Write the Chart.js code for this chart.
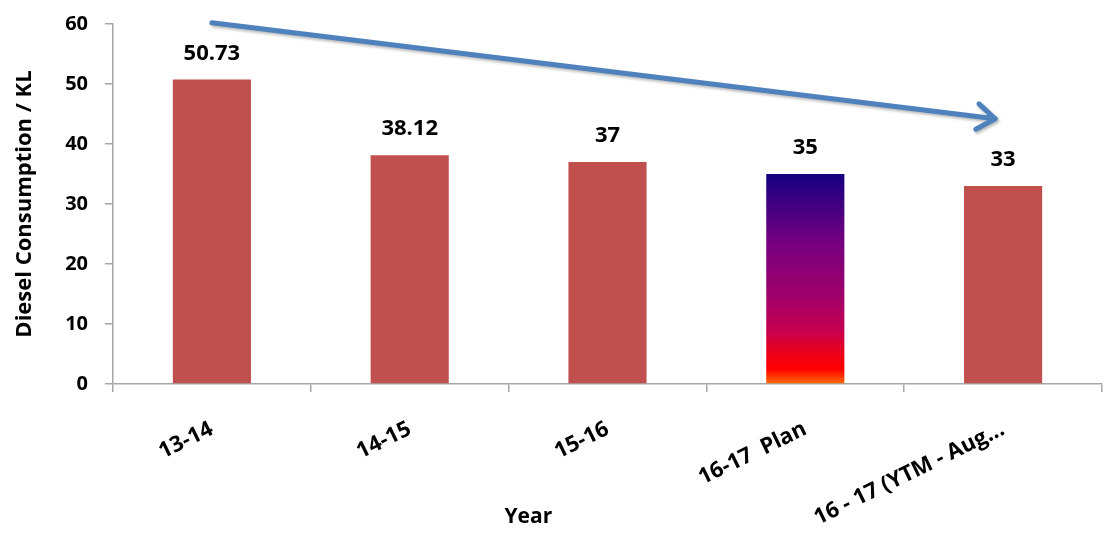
<!DOCTYPE html>
<html>
<head>
<meta charset="utf-8">
<script src="https://cdn.jsdelivr.net/npm/chart.js@4.4.1/dist/chart.umd.min.js"></script>
<style>
  html, body { margin: 0; padding: 0; background: #ffffff; }
  #wrap { width: 1115px; height: 534px; }
</style>
</head>
<body>
<div id="wrap"><canvas id="chart" width="1115" height="534"></canvas></div>
<script>
// Diesel consumption per financial year (KL)
const years = ['13-14', '14-15', '15-16', '16-17  Plan', '16 - 17 (YTM - Aug...'];
const consumption = [50.73, 38.12, 37, 35, 33];
const valueLabels = ['50.73', '38.12', '37', '35', '33'];
const yTicks = [0, 10, 20, 30, 40, 50, 60];
const planIndex = 3;

// Downward trend arrow, given as [category index, value]
const trendStart = [0, 60.2];
const trendEnd = [3.96, 44.2];

const FONT = '"Open Sans", "Noto Sans", sans-serif';
const BAR_RED = '#C0504D';
const AXIS_GREY = '#A6A6A6';

function planGradient(chart) {
  const { ctx, scales } = chart;
  if (!scales || !scales.y) return BAR_RED;
  const top = scales.y.getPixelForValue(consumption[planIndex]);
  const bottom = scales.y.getPixelForValue(0);
  const g = ctx.createLinearGradient(0, top, 0, bottom);
  g.addColorStop(0.00, 'rgb(20,0,128)');
  g.addColorStop(0.33, 'rgb(118,0,128)');
  g.addColorStop(0.58, 'rgb(160,0,105)');
  g.addColorStop(0.75, 'rgb(200,0,80)');
  g.addColorStop(0.84, 'rgb(232,0,32)');
  g.addColorStop(0.93, 'rgb(255,0,0)');
  g.addColorStop(1.00, 'rgb(255,110,0)');
  return g;
}

// Value labels above each bar
const valueLabelPlugin = {
  id: 'valueLabels',
  afterDatasetsDraw(chart) {
    const { ctx } = chart;
    const meta = chart.getDatasetMeta(0);
    ctx.save();
    ctx.font = 'bold 22px ' + FONT;
    ctx.fillStyle = '#000000';
    ctx.textAlign = 'center';
    ctx.textBaseline = 'alphabetic';
    meta.data.forEach((bar, i) => {
      ctx.fillText(valueLabels[i], bar.x, bar.y - 20);
    });
    ctx.restore();
  }
};

// Trend arrow and the x-axis caption
const overlayPlugin = {
  id: 'overlay',
  afterDraw(chart) {
    const { ctx, scales, chartArea } = chart;
    const x0 = scales.x.getPixelForValue(trendStart[0]);
    const y0 = scales.y.getPixelForValue(trendStart[1]);
    const x1 = scales.x.getPixelForValue(trendEnd[0]);
    const y1 = scales.y.getPixelForValue(trendEnd[1]);
    const ang = Math.atan2(y1 - y0, x1 - x0);
    const head = 22;
    const spread = 0.62;

    ctx.save();
    ctx.strokeStyle = '#4F81BD';
    ctx.lineWidth = 5;
    ctx.lineCap = 'round';
    ctx.lineJoin = 'round';
    ctx.shadowColor = 'rgba(0,0,0,0.28)';
    ctx.shadowBlur = 3;
    ctx.shadowOffsetX = 1.5;
    ctx.shadowOffsetY = 2;
    ctx.beginPath();
    ctx.moveTo(x0, y0);
    ctx.lineTo(x1, y1);
    ctx.moveTo(x1 - head * Math.cos(ang - spread), y1 - head * Math.sin(ang - spread));
    ctx.lineTo(x1, y1);
    ctx.lineTo(x1 - head * Math.cos(ang + spread), y1 - head * Math.sin(ang + spread));
    ctx.stroke();
    ctx.restore();

    ctx.save();
    ctx.font = 'bold 21px ' + FONT;
    ctx.fillStyle = '#000000';
    ctx.textAlign = 'center';
    ctx.textBaseline = 'alphabetic';
    ctx.fillText('Year', chartArea.left + (chartArea.right - chartArea.left) * 0.42, 523);
    ctx.restore();
  }
};

new Chart(document.getElementById('chart'), {
  type: 'bar',
  data: {
    labels: years,
    datasets: [{
      data: consumption,
      backgroundColor: (c) => c.dataIndex === planIndex ? planGradient(c.chart) : BAR_RED,
      borderWidth: 0,
      categoryPercentage: 1.0,
      barPercentage: 0.395
    }]
  },
  options: {
    responsive: false,
    animation: false,
    devicePixelRatio: 1,
    layout: { padding: { left: 0, right: 13, top: 24, bottom: 0 } },
    plugins: {
      legend: { display: false },
      tooltip: { enabled: false }
    },
    scales: {
      x: {
        grid: {
          display: true,
          drawOnChartArea: false,
          drawTicks: true,
          tickLength: 8,
          color: AXIS_GREY,
          lineWidth: 1.5
        },
        border: { display: true, color: AXIS_GREY, width: 1.5 },
        ticks: {
          color: '#000000',
          font: { family: FONT, size: 22, weight: 'bold' },
          minRotation: 26,
          maxRotation: 26,
          autoSkip: false,
          padding: 24
        },
        afterFit(scale) { scale.height = 150; }
      },
      y: {
        min: 0,
        max: 60,
        afterBuildTicks(scale) { scale.ticks = yTicks.map(v => ({ value: v })); },
        grid: {
          display: true,
          drawOnChartArea: false,
          drawTicks: true,
          tickLength: 8,
          color: AXIS_GREY,
          lineWidth: 1.5
        },
        border: { display: true, color: AXIS_GREY, width: 1.5 },
        ticks: {
          color: '#000000',
          font: { family: FONT, size: 20, weight: 'bold' },
          padding: 17
        },
        title: {
          display: true,
          text: 'Diesel Consumption / KL',
          color: '#000000',
          font: { family: FONT, size: 22, weight: 'bold' },
          padding: { top: 12, bottom: 0 }
        },
        afterFit(scale) {
          scale.width = 113;
          scale.paddingTop = 12;
          scale.paddingBottom = 12;
        }
      }
    }
  },
  plugins: [valueLabelPlugin, overlayPlugin]
});
</script>
</body>
</html>
